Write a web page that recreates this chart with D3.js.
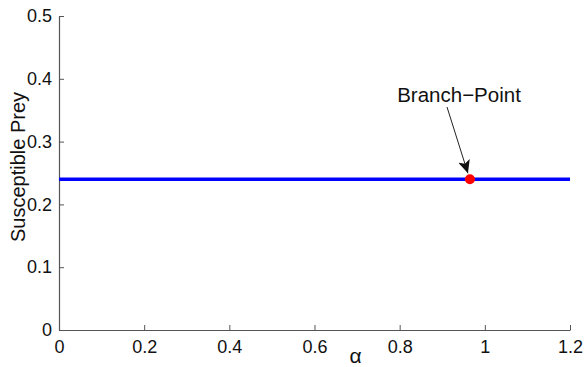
<!DOCTYPE html>
<html>
<head>
<meta charset="utf-8">
<script src="https://cdn.jsdelivr.net/npm/d3@7"></script>
<style>
  body { margin: 0; background: #fff; }
  text { font-family: Arial, "Liberation Sans", sans-serif; }
</style>
</head>
<body>
<div id="chart"></div>
<script>
// data
const alphaRange = [0, 1.2];
const preyLevel = [0.24, 0.24];
const branchPoint = [0.965, 0.24];
const xTicks = [0, 0.2, 0.4, 0.6, 0.8, 1, 1.2];
const yTicks = [0, 0.1, 0.2, 0.3, 0.4, 0.5];

const W = 584, H = 367;
const margin = { top: 16, right: 14, bottom: 37, left: 59 };
const width = W - margin.left - margin.right;
const height = H - margin.top - margin.bottom;

const svg = d3.select("#chart")
  .append("svg")
  .attr("width", W)
  .attr("height", H)
  .append("g")
  .attr("transform", `translate(${margin.left},${margin.top})`);

const x = d3.scaleLinear().domain([0, 1.2]).range([0, width]);
const y = d3.scaleLinear().domain([0, 0.5]).range([height, 0]);

// axes, ticks inside like matlab
const xAxis = svg.append("g")
  .attr("transform", `translate(0,${height})`)
  .call(d3.axisBottom(x).tickValues(xTicks).tickFormat(d3.format("~g")).tickSizeInner(-5).tickSizeOuter(0).tickPadding(10));
const yAxis = svg.append("g")
  .call(d3.axisLeft(y).tickValues(yTicks).tickFormat(d3.format("~g")).tickSizeInner(-5).tickSizeOuter(0).tickPadding(7));

[xAxis, yAxis].forEach(a => {
  a.select(".domain").attr("stroke", "#555").attr("stroke-width", 1.2);
  a.selectAll(".tick line").attr("stroke", "#555");
  a.selectAll("text").attr("font-size", 18).attr("fill", "#111")
    .attr("font-family", "Arial, 'Liberation Sans', sans-serif");
});

// axis labels
svg.append("text")
  .attr("x", x(0.6) + 41)
  .attr("y", height + 33)
  .attr("text-anchor", "middle")
  .attr("font-size", 21)
  .attr("fill", "#111")
  .text("α");

svg.append("text")
  .attr("transform", `translate(${-34},${167 - margin.top}) rotate(-90)`)
  .attr("text-anchor", "middle")
  .attr("font-size", 20)
  .attr("fill", "#111")
  .text("Susceptible Prey");

// the equilibrium line
svg.append("line")
  .attr("x1", x(alphaRange[0]))
  .attr("x2", x(alphaRange[1]))
  .attr("y1", y(preyLevel[0]))
  .attr("y2", y(preyLevel[1]))
  .attr("stroke", "#0000ff")
  .attr("stroke-width", 3.5);

// branch point
svg.append("circle")
  .attr("cx", x(branchPoint[0]))
  .attr("cy", y(branchPoint[1]))
  .attr("r", 5)
  .attr("fill", "#ff0000");

// annotation arrow
svg.append("defs").append("marker")
  .attr("id", "head")
  .attr("viewBox", "0 0 13 12")
  .attr("refX", 13).attr("refY", 6)
  .attr("markerWidth", 13).attr("markerHeight", 12)
  .attr("markerUnits", "userSpaceOnUse")
  .attr("orient", "auto")
  .append("path")
  .attr("d", "M0,0 L13,6 L0,12 L3,6 Z")
  .attr("fill", "#111");

svg.append("line")
  .attr("x1", 447 - margin.left)
  .attr("y1", 107 - margin.top)
  .attr("x2", x(branchPoint[0]) - 2)
  .attr("y2", y(branchPoint[1]) - 6)
  .attr("stroke", "#222")
  .attr("stroke-width", 1)
  .attr("marker-end", "url(#head)");

svg.append("text")
  .attr("x", 459 - margin.left)
  .attr("y", 102 - margin.top)
  .attr("text-anchor", "middle")
  .attr("font-size", 20.5)
  .attr("fill", "#111")
  .text("Branch\u2212Point");
</script>
</body>
</html>
